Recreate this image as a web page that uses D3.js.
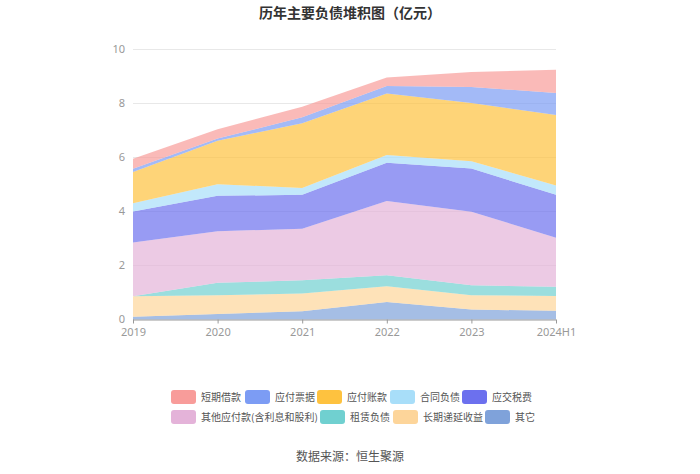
<!DOCTYPE html>
<html><head><meta charset="utf-8">
<script src="https://cdn.jsdelivr.net/npm/d3@7/dist/d3.min.js"></script>
<style>body{margin:0;background:#fff;}svg{display:block;font-family:"Noto Sans CJK SC","Noto Sans",sans-serif;}</style>
</head><body><svg id="c" width="700" height="474"></svg>
<script>
const categories = ["2019","2020","2021","2022","2023","2024H1"];
const seriesNames = ["短期借款","应付票据","应付账款","合同负债","应交税费","其他应付款(含利息和股利)","租赁负债","长期递延收益","其它"];
const s_短期借款 = [0.37,0.35,0.39,0.31,0.56,0.86];
const s_应付票据 = [0.12,0.08,0.22,0.28,0.59,0.82];
const s_应付账款 = [1.15,1.61,2.40,2.28,2.16,2.61];
const s_合同负债 = [0.31,0.43,0.25,0.28,0.27,0.34];
const s_应交税费 = [1.15,1.31,1.26,1.42,1.60,1.59];
const s_其他应付款 = [1.99,1.91,1.91,2.75,2.72,1.82];
const s_租赁负债 = [0.00,0.46,0.49,0.41,0.37,0.34];
const s_长期递延收益 = [0.76,0.70,0.65,0.58,0.53,0.55];
const s_其它 = [0.10,0.20,0.31,0.65,0.37,0.32];
const yTicks = [0,2,4,6,8,10];
const colors = ["#F89C9A","#7C9CF4","#FEC23F","#A8DEF9","#6C70EE","#E4B3D9","#70D0D0","#FDD59A","#7FA2DA"];

const seriesValues = [s_短期借款,s_应付票据,s_应付账款,s_合同负债,s_应交税费,s_其他应付款,s_租赁负债,s_长期递延收益,s_其它];
const table = categories.map((c,i)=>{const o={cat:c}; seriesNames.forEach((n,j)=>o[n]=seriesValues[j][i]); return o;});
const stackOrder = seriesNames.slice().reverse();
const stacked = d3.stack().keys(stackOrder)(table);

const svg = d3.select("#c");
const m = {l:133, r:556, t:49.5, b:319.5};
const x = d3.scalePoint().domain(categories).range([m.l,m.r]);
const y = d3.scaleLinear().domain([0,10]).range([m.b,m.t]);

svg.append("text").attr("x",350).attr("y",18).attr("text-anchor","middle")
  .attr("font-size",14).attr("font-weight","bold").attr("fill","#333").text("历年主要负债堆积图（亿元）");

svg.append("g").selectAll("line").data(yTicks.filter(d=>d>0)).join("line")
  .attr("x1",m.l).attr("x2",m.r).attr("y1",d=>y(d)).attr("y2",d=>y(d))
  .attr("stroke","#e8e8e8").attr("stroke-width",1);

const area = d3.area().x((d,i)=>x(categories[i])).y0(d=>y(d[0])).y1(d=>y(d[1]));
svg.append("g").selectAll("path").data(stacked).join("path")
  .attr("d",area)
  .attr("fill",d=>colors[seriesNames.indexOf(d.key)])
  .attr("fill-opacity",0.7);

const ya = d3.axisLeft(y).tickValues(yTicks).tickSize(0).tickPadding(8);
const gy = svg.append("g").attr("transform",`translate(${m.l},0)`).call(ya);
gy.select(".domain").remove();
gy.selectAll("text").attr("font-size",11).attr("dy","0.25em").attr("fill","#999").style("font-family","'Noto Sans',sans-serif");

const xa = d3.axisBottom(x).tickSize(4).tickPadding(5);
const gx = svg.append("g").attr("transform",`translate(0,${m.b})`).call(xa);
gx.select(".domain").attr("stroke","#999").attr("d",`M${m.l},0.5H${m.r}`);
gx.selectAll(".tick line").attr("stroke","#999");
gx.selectAll("text").attr("font-size",11).attr("fill","#999").style("font-family","'Noto Sans',sans-serif");

const legendPos = [[171,397],[245,397],[317,397],[390,397],[462,397],[171,417],[320,417],[393,417],[485,417]];
const lg = svg.append("g");
seriesNames.forEach((n,i)=>{
  const [lx,ly] = legendPos[i];
  lg.append("rect").attr("x",lx).attr("y",ly-7).attr("width",25).attr("height",14).attr("rx",3)
    .attr("fill",colors[i]);
  lg.append("text").attr("x",lx+30).attr("y",ly+3.5).attr("font-size",10).attr("fill","#555").text(n);
});

svg.append("text").attr("x",350).attr("y",461).attr("text-anchor","middle")
  .attr("font-size",12).attr("fill","#555").text("数据来源：恒生聚源");
</script></body></html>
